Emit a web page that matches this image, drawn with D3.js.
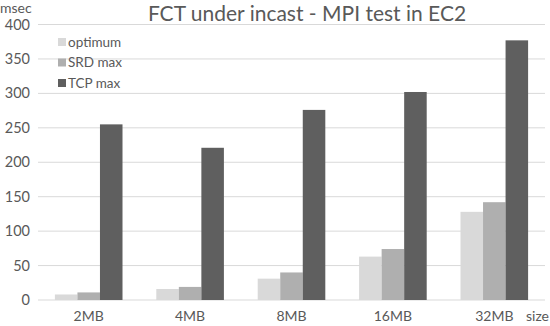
<!DOCTYPE html>
<html><head><meta charset="utf-8">
<script src="https://cdn.jsdelivr.net/npm/d3@7"></script>
<style>body{margin:0;background:#fff}svg{display:block}text{font-family:Lato,"Open Sans",sans-serif;fill:#595959}</style>
</head><body><svg id="c" width="550" height="326"></svg>
<script>
const categories = ["2MB","4MB","8MB","16MB","32MB"];
const seriesNames = ["optimum","SRD max","TCP max"];
const optimum = [8, 16, 31, 63, 128];
const srdMax = [11, 19, 40, 74, 142];
const tcpMax = [255, 221, 276, 302, 377];
const yTicks = [0,50,100,150,200,250,300,350,400];
const colors = ["#d9d9d9","#afafaf","#5f5f5f"];
const series = [optimum, srdMax, tcpMax];

const svg = d3.select("#c");
const m = {l:38, r:545, t:24.5, b:300};
const x = d3.scaleBand().domain(categories).range([m.l, m.r]).paddingInner(0).paddingOuter(0);
const y = d3.scaleLinear().domain([0,400]).range([m.b, m.t]);
const bw = x.bandwidth()/4.5;

svg.append("g").selectAll("line").data(yTicks).join("line")
  .attr("x1", m.l).attr("x2", m.r).attr("y1", d=>y(d)).attr("y2", d=>y(d))
  .attr("stroke", "#d9d9d9").attr("stroke-width", 1);

svg.append("g").selectAll("text").data(yTicks).join("text")
  .attr("x", 30).attr("y", d=>y(d)).attr("dy","0.35em").attr("text-anchor","end")
  .attr("font-size", 14.5).text(d=>d);

series.forEach((s, si) => {
  svg.append("g").selectAll("rect").data(s).join("rect")
    .attr("x", (d,i)=> x(categories[i]) + 0.75*bw + si*bw)
    .attr("width", bw)
    .attr("y", d=>y(d)).attr("height", d=>y(0)-y(d))
    .attr("fill", colors[si]);
});

svg.append("g").selectAll("text").data(categories).join("text")
  .attr("x", d=>x(d)+x.bandwidth()/2).attr("y", 321).attr("text-anchor","middle")
  .attr("font-size", 14).text(d=>d);

svg.append("text").attr("x", 307).attr("y", 21).attr("text-anchor","middle")
  .attr("font-size", 21).text("FCT under incast - MPI test in EC2");
svg.append("text").attr("x", 0).attr("y", 13).attr("font-size", 14).text("msec");
svg.append("text").attr("x", 549).attr("y", 321).attr("text-anchor","end").attr("font-size", 14).text("size");

const lg = svg.append("g");
seriesNames.forEach((n, i) => {
  const yy = 42 + i*20.5;
  lg.append("rect").attr("x", 58).attr("y", yy-4).attr("width", 8).attr("height", 8).attr("fill", colors[i]);
  lg.append("text").attr("x", 68).attr("y", yy).attr("dy","0.35em").attr("font-size", 13.5).text(n);
});
</script></body></html>
